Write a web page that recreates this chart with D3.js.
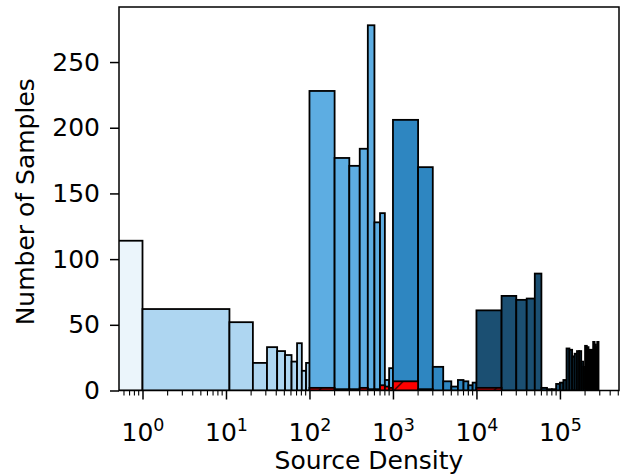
<!DOCTYPE html>
<html><head><meta charset="utf-8">
<script src="https://cdn.jsdelivr.net/npm/d3@7"></script>
<style>body{margin:0;background:#fff}svg{display:block}text{font-family:"DejaVu Sans",sans-serif;fill:#000}</style>
</head><body><svg id="c" width="630" height="474"></svg>
<script>
// ---- data (bin edges and counts per density group) ----
const g1Edges = [0, 1];
const g1Counts = [114];
const g2Edges = [1, 11, 21, 31, 41, 51, 61, 71, 81, 91, 101];
const g2Counts = [62, 52, 21, 33, 30, 27, 22, 36, 15, 21];
const g3Edges = [100, 200, 300, 400, 500, 600, 700, 800, 900, 1000];
const g3Counts = [228, 177, 171, 184, 278, 128, 135, 8, 17];
const g4Edges = [1000, 2000, 3000, 4000, 5000, 6000, 7000, 8000, 9000, 10000];
const g4Counts = [206, 170, 18, 7, 3, 8, 7, 4, 6];
const g5Edges = [10000, 20000, 30000, 40000, 50000, 60000, 70000, 80000, 90000, 100000];
const g5Counts = [61, 72, 69, 70, 89, 2, 1, 1, 5];
const g6Edges = [100000, 110000, 120000, 130000, 140000, 150000, 160000, 170000, 180000, 190000,
                 200000, 210000, 220000, 230000, 240000, 250000, 260000, 270000, 280000, 290000];
const g6Counts = [6, 8, 32, 31, 26, 28, 30, 30, 22, 18, 34, 33, 31, 29, 31, 37, 35, 33, 37];
const groupColors = ["#EBF5FB", "#AED6F1", "#5DADE2", "#2E86C1", "#1B4F72", "#123850"];
const redStarts = [100, 200, 300, 400, 500, 600, 700, 800, 900, 1000, 2000, 10000];
const redEnds   = [200, 300, 400, 500, 600, 700, 800, 900, 1000, 2000, 3000, 20000];
const redCounts = [2, 1, 1, 2, 1, 1, 4, 3, 2, 7, 1, 2];
const yTicks = [0, 50, 100, 150, 200, 250];
const xMajorTicks = [1, 10, 100, 1000, 10000, 100000];
const xDomain = [0.523, 5.1e5];
const yDomain = [0, 291.9];

// ---- layout ----
const L = 119, T = 7, W = 500, H = 383.5;
const svg = d3.select("#c");
const defs = svg.append("defs");
defs.append("clipPath").attr("id", "clip").append("rect").attr("width", W).attr("height", H);
const pat = defs.append("pattern").attr("id", "hatch").attr("patternUnits", "userSpaceOnUse")
  .attr("width", 25).attr("height", 25).attr("patternTransform", "translate(9.5,0)");
pat.append("rect").attr("width", 25).attr("height", 25).attr("fill", "red");
pat.append("path").attr("d", "M-2,2 L2,-2 M0,25 L25,0 M23,27 L27,23")
  .attr("stroke", "#000").attr("stroke-width", 1.2);

const x = d3.scaleLog().domain(xDomain).range([0, W]);
const y = d3.scaleLinear().domain(yDomain).range([H, 0]);
const g = svg.append("g").attr("transform", `translate(${L},${T})`);
const plot = g.append("g").attr("clip-path", "url(#clip)");

const groups = [
  [g1Edges, g1Counts], [g2Edges, g2Counts], [g3Edges, g3Counts],
  [g4Edges, g4Counts], [g5Edges, g5Counts], [g6Edges, g6Counts]
];
const px = v => x(Math.max(v, xDomain[0] * 0.5));
groups.forEach(([edges, counts], gi) => {
  const bins = counts.map((c, i) => ({x0: edges[i], x1: edges[i + 1], c}));
  plot.append("g").selectAll("rect").data(bins).join("rect")
    .attr("x", d => px(d.x0)).attr("width", d => px(d.x1) - px(d.x0))
    .attr("y", d => y(d.c)).attr("height", d => y(0) - y(d.c))
    .attr("fill", groupColors[gi]).attr("stroke", "#000").attr("stroke-width", 1.8);
});
const redBins = redCounts.map((c, i) => ({x0: redStarts[i], x1: redEnds[i], c}));
plot.append("g").attr("transform", `translate(${-L},${-T})`)
  .selectAll("rect").data(redBins).join("rect")
  .attr("x", d => L + px(d.x0)).attr("width", d => px(d.x1) - px(d.x0))
  .attr("y", d => T + y(d.c)).attr("height", d => y(0) - y(d.c))
  .attr("fill", "url(#hatch)").attr("stroke", "#000").attr("stroke-width", 1.8);

// ---- axes ----
const fs = 25;
const yAx = g.append("g").call(d3.axisLeft(y).tickValues(yTicks).tickSize(9).tickPadding(10).tickFormat(d3.format("d")));
yAx.select(".domain").remove();
yAx.selectAll(".tick line").attr("stroke", "#000").attr("stroke-width", 1.5);
yAx.selectAll(".tick text").attr("font-size", fs).attr("font-family", "DejaVu Sans");

const minor = x.ticks().filter(v => !xMajorTicks.includes(v) && v >= xDomain[0] && v <= xDomain[1]);
g.append("g").attr("transform", `translate(0,${H})`).selectAll("line").data(minor).join("line")
  .attr("x1", d => x(d)).attr("x2", d => x(d)).attr("y1", 0).attr("y2", 5)
  .attr("stroke", "#000").attr("stroke-width", 1.1);
const xAx = g.append("g").attr("transform", `translate(0,${H})`)
  .call(d3.axisBottom(x).tickValues(xMajorTicks).tickSize(9).tickFormat(""));
xAx.select(".domain").remove();
xAx.selectAll(".tick line").attr("stroke", "#000").attr("stroke-width", 1.5);
xAx.selectAll(".tick").append("text")
  .attr("text-anchor", "middle").attr("y", 50.5).attr("font-size", fs)
  .each(function(d) {
    const t = d3.select(this);
    t.append("tspan").text("10");
    t.append("tspan").attr("dy", -10).attr("font-size", 17.5).text(Math.round(Math.log10(d)));
  });

// spines
g.append("rect").attr("width", W).attr("height", H).attr("fill", "none")
  .attr("stroke", "#000").attr("stroke-width", 1.5);

// labels
svg.append("text").attr("x", L + W / 2).attr("y", 469).attr("text-anchor", "middle")
  .attr("font-size", fs).text("Source Density");
svg.append("text").attr("transform", `translate(33.5,${T + H / 2 + 3}) rotate(-90)`)
  .attr("text-anchor", "middle").attr("font-size", fs).text("Number of Samples");
</script></body></html>
